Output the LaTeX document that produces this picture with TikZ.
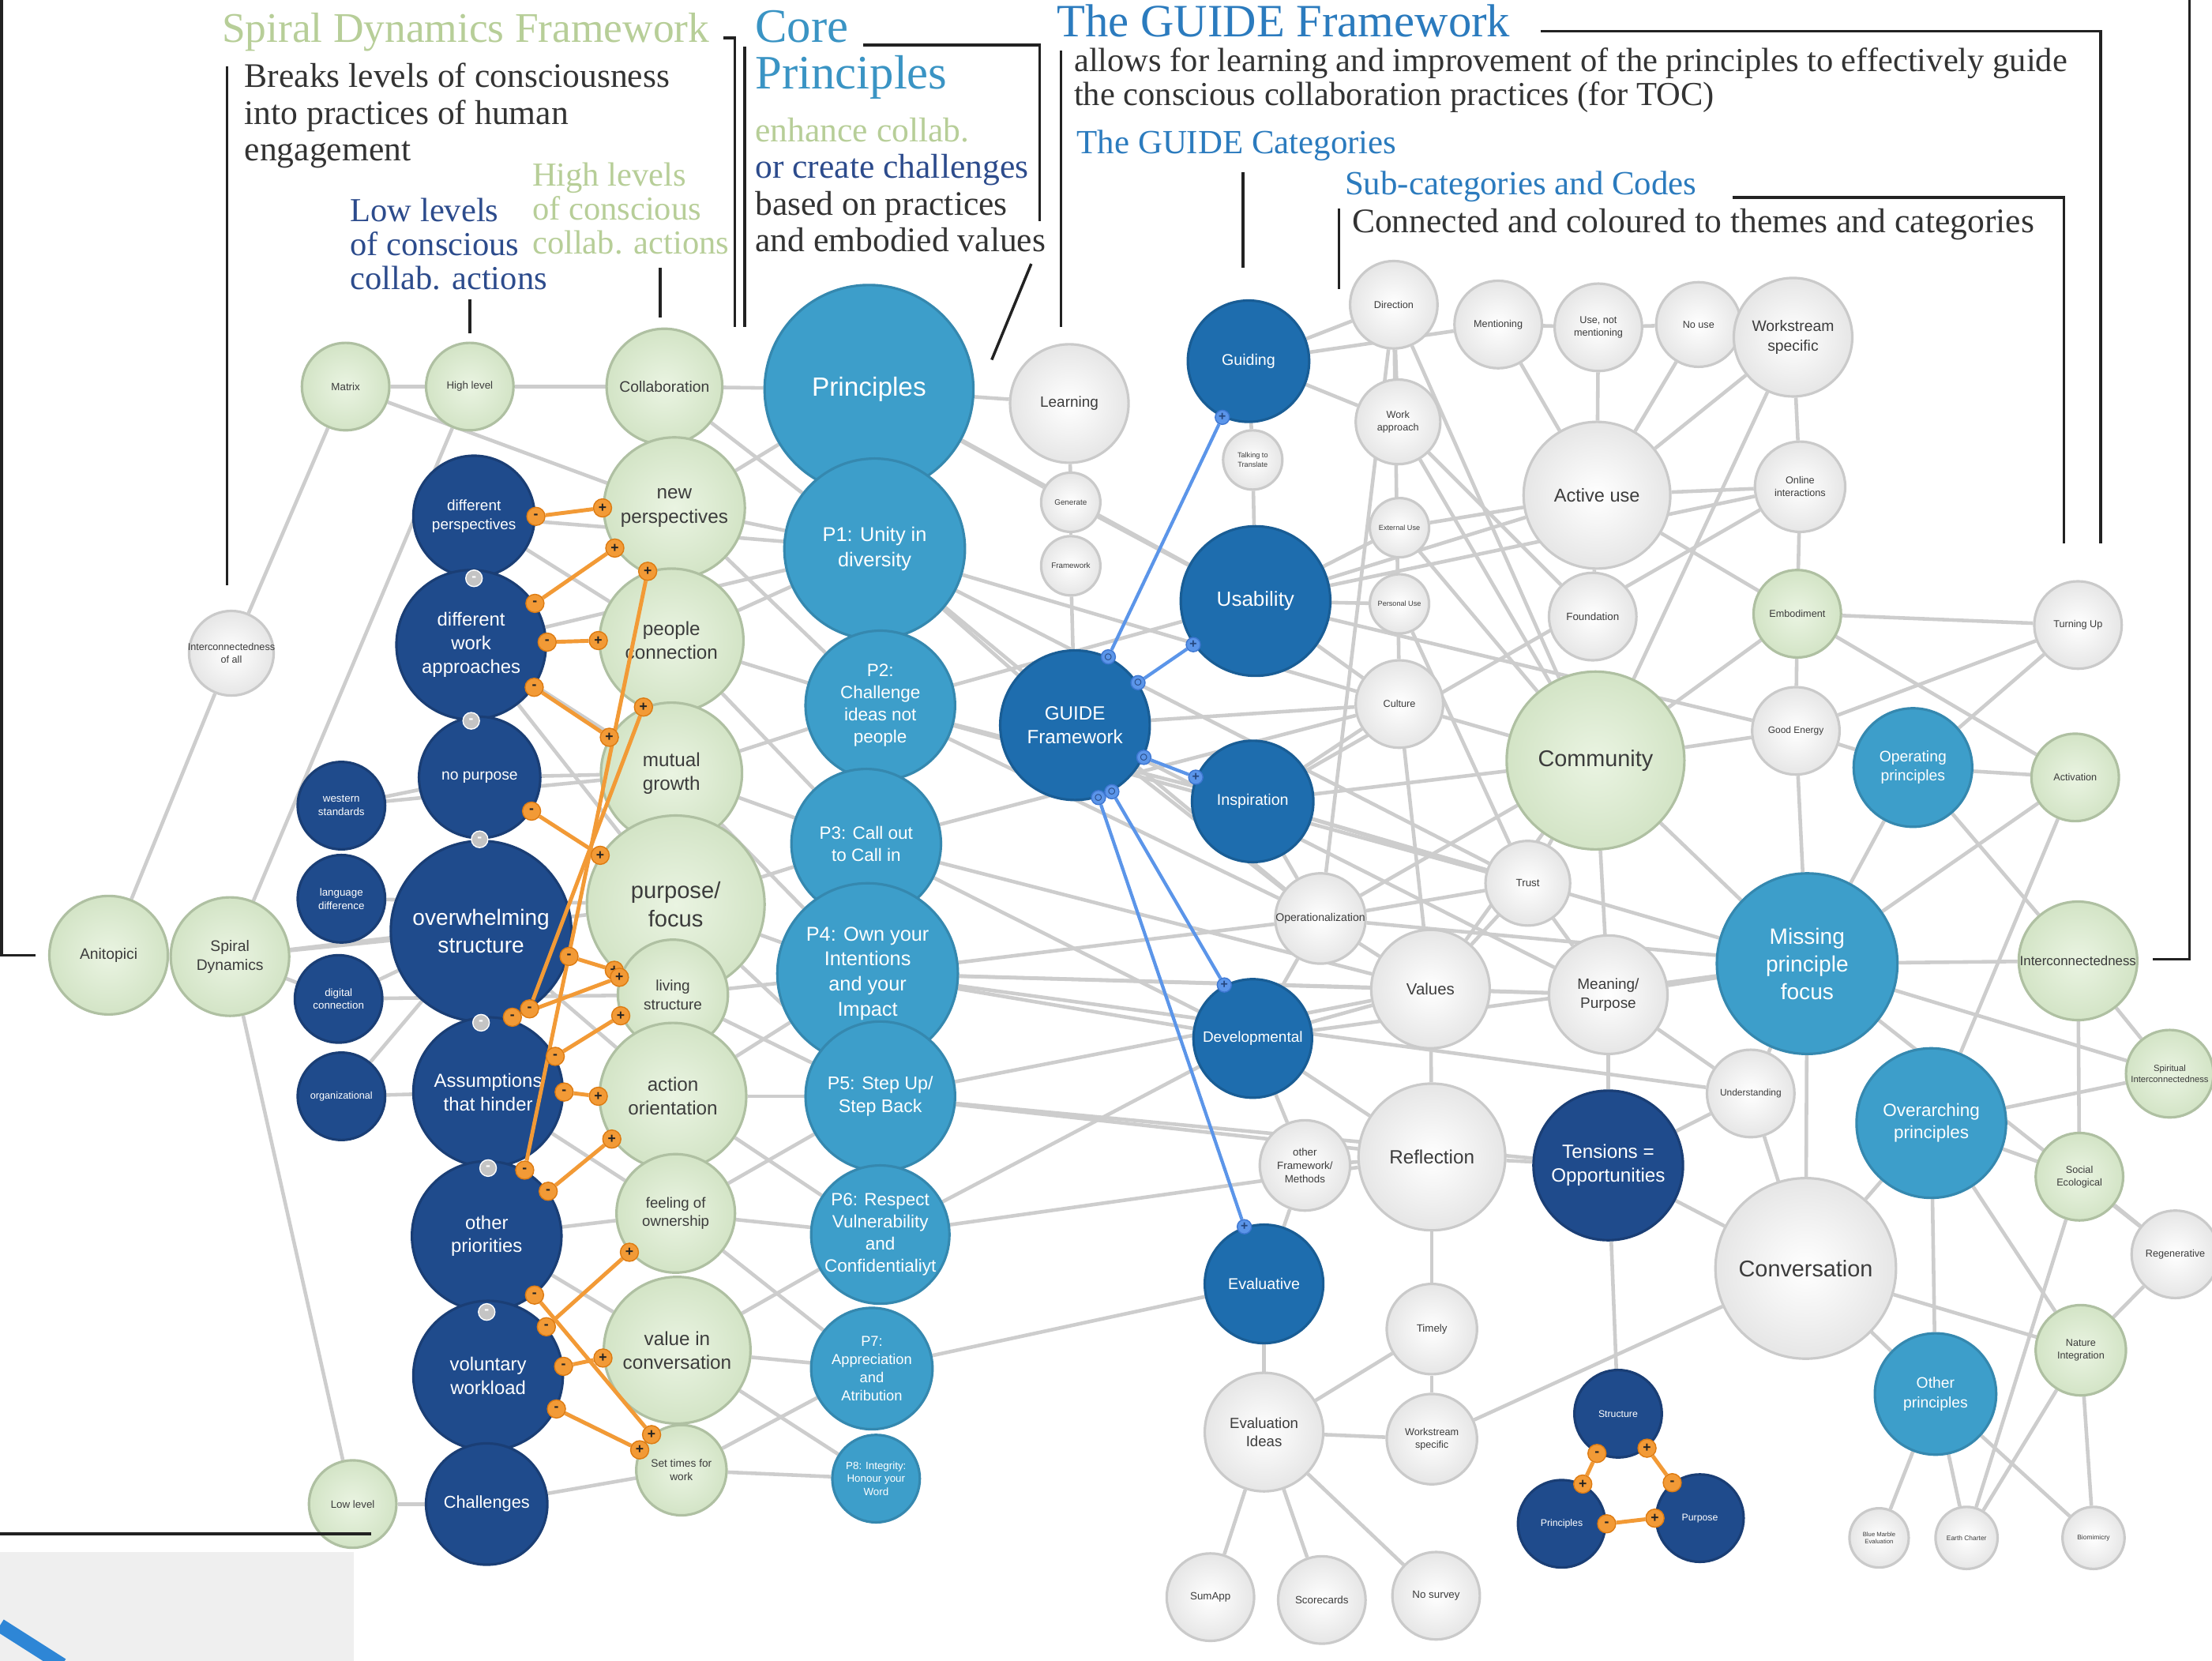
\documentclass[tikz,border=0pt]{standalone}
\usepackage{fontspec}
\newfontfamily\annofont{Liberation Serif}
\newfontfamily\ballfont{Liberation Sans}
\usetikzlibrary{backgrounds}
\pgfdeclarelayer{links}
\pgfdeclarelayer{front}
\pgfsetlayers{background,main,links,front}
\definecolor{SageTitle}{HTML}{B7CE98}
\definecolor{DeepInk}{HTML}{2C4B8C}
\definecolor{CoreTeal}{HTML}{3A94C4}
\definecolor{GuideTitle}{HTML}{2B7BBE}
\definecolor{BodyInk}{HTML}{333333}
\definecolor{Ink}{HTML}{222222}
\definecolor{BallInk}{HTML}{3C3C3C}
\definecolor{SageCore}{HTML}{EAF4E2}
\definecolor{SageRim}{HTML}{D3E4C6}
\definecolor{SageEdge}{HTML}{AFC0A2}
\definecolor{ShellRim}{HTML}{E6E6E6}
\definecolor{ShellEdge}{HTML}{CACACA}
\definecolor{Navy}{HTML}{1F4B8C}
\definecolor{NavyEdge}{HTML}{1A3E75}
\definecolor{GuideBlue}{HTML}{1E6DAE}
\definecolor{GuideEdge}{HTML}{195D95}
\definecolor{Teal}{HTML}{3D9ECA}
\definecolor{TealEdge}{HTML}{3588AF}
\definecolor{LinkGray}{HTML}{CDCDCD}
\definecolor{OrangeLink}{HTML}{F29A36}
\definecolor{OrangeDeep}{HTML}{DD7B12}
\definecolor{BlueLink}{HTML}{5B95E9}
\definecolor{BlueDeep}{HTML}{3E77D2}
\definecolor{MarkGray}{HTML}{C4C4C4}
\definecolor{PanelGray}{HTML}{EFEFEF}
\definecolor{SlideBlue}{HTML}{2E86D6}
\tikzset{
  ball/.style={circle, draw, line width=0.9pt, align=center, inner sep=-6pt},
  dia/.style={minimum size=#1*0.017864cm},
  fs/.style={font=\ballfont\fontsize{#1}{\fpeval{1.25*#1}}\selectfont},
  greenball/.style={ball, draw=SageEdge, inner color=SageCore,
                    outer color=SageRim, text=BallInk},
  whiteball/.style={ball, draw=ShellEdge, inner color=white,
                    outer color=ShellRim, text=BallInk},
  navyball/.style={ball, draw=NavyEdge, fill=Navy, text=white},
  guideball/.style={ball, draw=GuideEdge, fill=GuideBlue, text=white},
  tealball/.style={ball, draw=TealEdge, fill=Teal, text=white},
  link/.style={draw=LinkGray, line width=1.3pt},
  orlink/.style={draw=OrangeLink, line width=1.4pt},
  bllink/.style={draw=BlueLink, line width=1.2pt},
  ordot/.style={circle, fill=OrangeLink, draw=OrangeDeep, line width=0.4pt,
                minimum size=0.23cm, inner sep=0pt, text=Ink,
                font=\ballfont\bfseries\fontsize{5}{5}\selectfont},
  bldot/.style={circle, fill=BlueLink, draw=BlueDeep, line width=0.4pt,
                minimum size=0.18cm, inner sep=0pt, text=BlueDeep!60!black,
                font=\ballfont\bfseries\fontsize{4.5}{4.5}\selectfont},
  grdot/.style={circle, fill=MarkGray, draw=white, line width=0.4pt,
                minimum size=0.21cm, inner sep=0pt, text=white,
                font=\ballfont\bfseries\fontsize{5}{5}\selectfont},
  leader/.style={draw=Ink, line width=1pt},
  headline/.style={font=\annofont\fontsize{15.2}{16}\selectfont,
                   inner sep=0pt, anchor=west},
  corehead/.style={font=\annofont\fontsize{17.3}{16.8}\selectfont,
                   text=CoreTeal, align=left, inner sep=0pt, anchor=west},
  subhead/.style={font=\annofont\fontsize{12.2}{12.2}\selectfont,
                  text=GuideTitle, inner sep=0pt, anchor=west},
  annotext/.style={font=\annofont\fontsize{12.4}{13.2}\selectfont,
                   text=BodyInk, align=left, inner sep=0pt, anchor=west},
  annotight/.style={annotext, font=\annofont\fontsize{12.1}{12.2}\selectfont},
}

\begin{document}
\begin{tikzpicture}[x=0.017864cm, y=-0.017864cm]
  \path[use as bounding box] (0,0) rectangle (1568,1177);

  % headings and notes
  \node[headline, text=SageTitle] (sdtitle) at (157,23) {Spiral Dynamics Framework};
  \node[annotext] (sddesc) at (173,82)
    {Breaks levels of consciousness\\into practices of human\\engagement};
  \node[annotight, text=DeepInk] (lowlbl) at (248,173)
    {Low levels\\of conscious\\collab. actions};
  \node[annotight, text=SageTitle] (highlbl) at (377,148)
    {High levels\\of conscious\\collab. actions};
  \node[corehead] (coretitle) at (535,39) {Core\\Principles};
  \node[annotext] (corenote) at (535,131)
    {{\color{SageTitle}enhance collab.}\\{\color{DeepInk}or create challenges}\\
     based on practices\\and embodied values};
  \node[headline, text=GuideTitle, font=\annofont\fontsize{16.7}{16.7}\selectfont]
    (guidetitle) at (749,15) {The GUIDE Framework};
  \node[annotight] (guidedesc) at (761,57)
    {allows for learning and improvement of the principles to effectively guide\\
     the conscious collaboration practices (for TOC)};
  \node[subhead] (cathead) at (763,103) {The GUIDE Categories};
  \node[subhead] (subcathead) at (953,132) {Sub-categories and Codes};
  \node[annotext] (subcatdesc) at (958,159)
    {Connected and coloured to themes and categories};

  % bracket lines
  \draw[leader] (1,0) -- (1,677) -- (25,677);
  \draw[leader] (161,47) -- (161,415);
  \draw[leader] (333,212) -- (333,236);
  \draw[leader] (468,190) -- (468,225);
  \draw[leader] (513,27) -- (521,27) -- (521,232);
  \draw[leader] (528,33) -- (528,232);
  \draw[leader] (612,32) -- (737,32) -- (737,157);
  \draw[leader] (731,187) -- (703,255);
  \draw[leader] (752,36) -- (752,232);
  \draw[leader] (1092,22) -- (1489,22) -- (1489,385);
  \draw[leader] (1228,140) -- (1463,140) -- (1463,385);
  \draw[leader] (881,122) -- (881,190);
  \draw[leader] (949,148) -- (949,205);
  \draw[leader] (1552,0) -- (1552,680) -- (1526,680);

  % left cluster
  \node[greenball, dia=84, fs=5.5] (anitopici) at (77,677) {Anitopici};
  \node[greenball, dia=84, fs=5.5] (spiral) at (163,678) {Spiral\\Dynamics};
  \node[whiteball, dia=60, fs=3.6] (interall) at (164,463) {Interconnectedness\\of all};
  \node[greenball, dia=62, fs=3.8] (matrix) at (245,274) {Matrix};
  \node[greenball, dia=62, fs=3.8] (highlvl) at (333,274) {High level};
  \node[greenball, dia=62, fs=3.8] (lowlvl) at (250,1066) {Low level};
  \node[navyball, dia=62, fs=3.8] (western) at (242,571) {western\\standards};
  \node[navyball, dia=62, fs=3.8] (language) at (242,637) {language\\difference};
  \node[navyball, dia=62, fs=3.8] (digital) at (240,708) {digital\\connection};
  \node[navyball, dia=62, fs=3.6] (organiz) at (242,777) {organizational};
  \node[navyball, dia=86, fs=5.4] (diffpersp) at (336,366) {different\\perspectives};
  \node[navyball, dia=106, fs=6.8] (diffwork) at (334,457) {different\\work\\approaches};
  \node[navyball, dia=86, fs=5.5] (nopurpose) at (340,551) {no purpose};
  \node[navyball, dia=128, fs=8] (overwhelm) at (341,660) {overwhelming\\structure};
  \node[navyball, dia=106, fs=6.8] (assump) at (346,774) {Assumptions\\that hinder};
  \node[navyball, dia=106, fs=6.8] (otherprio) at (345,876) {other\\priorities};
  \node[navyball, dia=106, fs=6.8] (voluntary) at (346,975) {voluntary\\workload};
  \node[navyball, dia=86, fs=6.2] (challenges) at (345,1066) {Challenges};

  % collaboration column
  \node[greenball, dia=82, fs=5.5] (collab) at (471,274) {Collaboration};
  \node[greenball, dia=100, fs=6.9] (newpersp) at (478,360) {new\\perspectives};
  \node[greenball, dia=102, fs=6.9] (peopleconn) at (476,454) {people\\connection};
  \node[greenball, dia=100, fs=6.9] (mutual) at (476,548) {mutual\\growth};
  \node[greenball, dia=126, fs=8.3] (purpose) at (479,641) {purpose/\\focus};
  \node[greenball, dia=78, fs=5.4] (living) at (477,705) {living\\structure};
  \node[greenball, dia=104, fs=6.9] (action) at (477,777) {action\\orientation};
  \node[greenball, dia=84, fs=5.3] (feeling) at (479,860) {feeling of\\ownership};
  \node[greenball, dia=104, fs=6.9] (valueconv) at (480,957) {value in\\conversation};
  \node[greenball, dia=64, fs=3.9] (settimes) at (483,1042) {Set times for\\work};

  % principles column
  \node[tealball, dia=148, fs=9.5] (principles) at (616,276) {Principles};
  \node[tealball, dia=128, fs=7.2] (pone) at (620,389) {P1: Unity in\\diversity};
  \node[tealball, dia=106, fs=6.4] (ptwo) at (624,500) {P2:\\Challenge\\ideas not\\people};
  \node[tealball, dia=106, fs=6.4] (pthree) at (614,598) {P3: Call out\\to Call in};
  \node[tealball, dia=128, fs=7.2] (pfour) at (615,690)
    {P4: Own your\\Intentions\\and your\\Impact};
  \node[tealball, dia=106, fs=6.6] (pfive) at (624,777) {P5: Step Up/\\Step Back};
  \node[tealball, dia=98, fs=6.4] (psix) at (624,875)
    {P6: Respect\\Vulnerability\\and\\Confidentialiyt};
  \node[tealball, dia=86, fs=5.2] (pseven) at (618,970) {P7:\\Appreciation\\and\\Atribution};
  \node[tealball, dia=62, fs=3.8] (peight) at (621,1048) {P8: Integrity:\\Honour your\\Word};

  % guide categories
  \node[whiteball, dia=84, fs=5.4] (learning) at (758,286) {Learning};
  \node[whiteball, dia=42, fs=2.8] (generate) at (759,356) {Generate};
  \node[whiteball, dia=42, fs=2.8] (framework) at (759,401) {Framework};
  \node[guideball, dia=106, fs=6.9] (guide) at (762,514) {GUIDE\\Framework};
  \node[guideball, dia=86, fs=5.6] (guiding) at (885,256) {Guiding};
  \node[whiteball, dia=42, fs=2.6] (talking) at (888,326) {Talking to\\Translate};
  \node[guideball, dia=106, fs=7.4] (usability) at (890,426) {Usability};
  \node[guideball, dia=86, fs=5.6] (inspiration) at (888,568) {Inspiration};
  \node[guideball, dia=84, fs=5.4] (developmental) at (888,736) {Developmental};
  \node[guideball, dia=84, fs=5.6] (evaluative) at (896,910) {Evaluative};

  % codes
  \node[whiteball, dia=64, fs=4] (operational) at (936,651) {Operationalization};
  \node[whiteball, dia=64, fs=3.8] (otherframe) at (925,826) {other\\Framework/\\Methods};
  \node[whiteball, dia=84, fs=5.3] (evalideas) at (896,1015) {Evaluation\\Ideas};
  \node[whiteball, dia=62, fs=3.8] (sumapp) at (858,1132) {SumApp};
  \node[whiteball, dia=62, fs=3.8] (scorecards) at (937,1134) {Scorecards};
  \node[whiteball, dia=62, fs=3.8] (nosurvey) at (1018,1131) {No survey};
  \node[whiteball, dia=64, fs=3.8] (timely) at (1015,942) {Timely};
  \node[whiteball, dia=64, fs=3.6] (workspec) at (1015,1020) {Workstream\\specific};
  \node[whiteball, dia=104, fs=6.9] (reflection) at (1015,820) {Reflection};
  \node[whiteball, dia=84, fs=5.8] (values) at (1014,701) {Values};
  \node[navyball, dia=106, fs=6.9] (tensions) at (1140,826) {Tensions =\\Opportunities};
  \node[whiteball, dia=84, fs=5.4] (meaning) at (1140,705) {Meaning/\\Purpose};
  \node[whiteball, dia=60, fs=3.8] (trust) at (1083,626) {Trust};
  \node[greenball, dia=126, fs=8.2] (community) at (1131,539) {Community};
  \node[whiteball, dia=62, fs=3.8] (foundation) at (1129,437) {Foundation};
  \node[whiteball, dia=104, fs=6.7] (activeuse) at (1132,351) {Active use};
  \node[whiteball, dia=62, fs=3.6] (direction) at (988,216) {Direction};
  \node[whiteball, dia=60, fs=3.6] (workappr) at (991,299) {Work\\approach};
  \node[whiteball, dia=42, fs=2.6] (external) at (992,374) {External Use};
  \node[whiteball, dia=42, fs=2.6] (personal) at (992,428) {Personal Use};
  \node[whiteball, dia=62, fs=3.6] (culture) at (992,499) {Culture};
  \node[whiteball, dia=62, fs=3.6] (mentioning) at (1062,230) {Mentioning};
  \node[whiteball, dia=62, fs=3.6] (usenot) at (1133,232) {Use, not\\mentioning};
  \node[whiteball, dia=60, fs=3.6] (nouse) at (1204,230) {No use};
  \node[whiteball, dia=84, fs=5.5] (workstream) at (1271,239) {Workstream\\specific};
  \node[whiteball, dia=64, fs=3.6] (online) at (1276,345) {Online\\interactions};
  \node[greenball, dia=62, fs=3.6] (embodiment) at (1274,435) {Embodiment};
  \node[whiteball, dia=62, fs=3.4] (goodenergy) at (1273,518) {Good Energy};
  \node[tealball, dia=84, fs=5.5] (operating) at (1356,544) {Operating\\principles};
  \node[tealball, dia=128, fs=8] (missing) at (1281,683) {Missing\\principle\\focus};
  \node[whiteball, dia=62, fs=3.4] (understanding) at (1241,775) {Understanding};
  \node[tealball, dia=106, fs=6.4] (overarching) at (1369,796) {Overarching\\principles};
  \node[whiteball, dia=128, fs=8.2] (conversation) at (1280,899) {Conversation};
  \node[tealball, dia=86, fs=5.5] (otherprinc) at (1372,988) {Other\\principles};
  \node[navyball, dia=62, fs=3.5] (structure) at (1147,1002) {Structure};
  \node[navyball, dia=62, fs=3.5] (trprinciples) at (1107,1080) {Principles};
  \node[navyball, dia=62, fs=3.5] (trpurpose) at (1205,1076) {Purpose};
  \node[whiteball, dia=42, fs=2.2] (bluemarble) at (1332,1090) {Blue Marble\\Evaluation};
  \node[whiteball, dia=44, fs=2.4] (earthcharter) at (1394,1090) {Earth Charter};
  \node[whiteball, dia=44, fs=2.4] (biomimicry) at (1484,1090) {Biomimicry};
  \node[whiteball, dia=62, fs=3.6] (turningup) at (1473,443) {Turning Up};
  \node[greenball, dia=62, fs=3.6] (activation) at (1471,551) {Activation};
  \node[greenball, dia=84, fs=4.8] (interconn) at (1473,681) {Interconnectedness};
  \node[greenball, dia=62, fs=3.2] (spiritual) at (1538,761) {Spiritual\\Interconnectedness};
  \node[greenball, dia=62, fs=3.6] (social) at (1474,834) {Social\\Ecological};
  \node[whiteball, dia=62, fs=3.6] (regenerative) at (1542,889) {Regenerative};
  \node[greenball, dia=64, fs=3.6] (nature) at (1475,957) {Nature\\Integration};

  % slide remnant, bottom left
  \draw[leader] (0,1087) -- (263,1087);
  \fill[PanelGray] (0,1100) rectangle (251,1177);
  \draw[SlideBlue, line width=5pt] (0,1152) -- (44,1180);

  % link ends
  \begin{pgfonlayer}{front}
    \foreach \n in {diffpersp, diffwork, nopurpose, overwhelm, assump, otherprio}
      \node[grdot] (gap-\n) at (\n.south) {-};
    \node[ordot] (o1a) at (diffpersp.0) {-};   \node[ordot] (o1b) at (newpersp.180) {+};
    \node[ordot] (o2a) at (diffwork.33) {-};   \node[ordot] (o2b) at (newpersp.214) {+};
    \node[ordot] (o3a) at (diffwork.2) {-};    \node[ordot] (o3b) at (peopleconn.180) {+};
    \node[ordot] (o4a) at (diffwork.-34) {-};  \node[ordot] (o4b) at (mutual.150) {+};
    \node[ordot] (o5a) at (nopurpose.-33) {-}; \node[ordot] (o5b) at (purpose.147) {+};
    \node[ordot] (o6a) at (overwhelm.-16) {-}; \node[ordot] (o6b) at (purpose.227) {+};
    \node[ordot] (o7a) at (overwhelm.-70) {-}; \node[ordot] (o7b) at (living.162) {+};
    \node[ordot] (o8a) at (assump.28) {-};     \node[ordot] (o8b) at (living.202) {+};
    \node[ordot] (o9a) at (assump.0) {-};      \node[ordot] (o9b) at (action.180) {+};
    \node[ordot] (o10a) at (otherprio.36) {-}; \node[ordot] (o10b) at (action.215) {+};
    \node[ordot] (o11a) at (otherprio.-51) {-};\node[ordot] (o11b) at (settimes.130) {+};
    \node[ordot] (o12a) at (voluntary.40) {-}; \node[ordot] (o12b) at (feeling.220) {+};
    \node[ordot] (o13a) at (voluntary.7) {-};  \node[ordot] (o13b) at (valueconv.186) {+};
    \node[ordot] (o14a) at (voluntary.-26) {-};\node[ordot] (o14b) at (settimes.154) {+};
    \node[ordot] (o15a) at (otherprio.60) {-}; \node[ordot] (o15b) at (peopleconn.109) {+};
    \node[ordot] (o16a) at (overwhelm.-58) {-};\node[ordot] (o16b) at (mutual.113) {+};
    \node[ordot] (t1a) at (structure.242) {-};    \node[ordot] (t1b) at (trprinciples.62) {+};
    \node[ordot] (t2a) at (structure.310) {+};    \node[ordot] (t2b) at (trpurpose.128) {-};
    \node[ordot] (t3a) at (trprinciples.0) {-};   \node[ordot] (t3b) at (trpurpose.180) {+};
    \node[bldot] (b1a) at (guide.64) {$\circ$};   \node[bldot] (b1b) at (guiding.245) {+};
    \node[bldot] (b2a) at (guide.34) {$\circ$};   \node[bldot] (b2b) at (usability.215) {+};
    \node[bldot] (b3a) at (guide.-25) {$\circ$};  \node[bldot] (b3b) at (inspiration.157) {+};
    \node[bldot] (b4a) at (guide.-61) {$\circ$};  \node[bldot] (b4b) at (developmental.118) {+};
    \node[bldot] (b5a) at (guide.-72) {$\circ$};  \node[bldot] (b5b) at (evaluative.109) {+};
  \end{pgfonlayer}

  \begin{pgfonlayer}{links}
    \foreach \k in {o1,o2,o3,o4,o5,o6,o7,o8,o9,o10,o11,o12,o13,o14,o15,o16,t1,t2,t3}
      \draw[orlink] (\k a) -- (\k b);
    \foreach \k in {b1,b2,b3,b4,b5}
      \draw[bllink] (\k a) -- (\k b);
  \end{pgfonlayer}

  % code network
  \begin{scope}[on background layer]
    \fill[white] (0,0) rectangle (1568,1177);
    \foreach \a/\b in {anitopici/interall, interall/matrix, spiral/highlvl,
        spiral/lowlvl, spiral/overwhelm, spiral/purpose, spiral/digital,
        matrix/highlvl, highlvl/collab, matrix/newpersp, collab/principles,
        western/nopurpose, western/mutual, language/purpose, digital/overwhelm,
        digital/living, organiz/assump, organiz/overwhelm, lowlvl/challenges,
        challenges/settimes, diffpersp/peopleconn, diffwork/mutual,
        diffwork/purpose, nopurpose/mutual, overwhelm/action, assump/feeling,
        otherprio/valueconv, otherprio/feeling, voluntary/settimes,
        diffwork/pone, diffpersp/pone, newpersp/pone, newpersp/ptwo,
        peopleconn/pone, peopleconn/ptwo, peopleconn/pthree, mutual/ptwo,
        mutual/pthree, mutual/pfour, purpose/pthree, purpose/pfour,
        purpose/pfive, living/pfour, living/pfive, action/pfour, action/pfive,
        action/psix, feeling/pfive, feeling/psix, feeling/pseven,
        valueconv/psix, valueconv/pseven, valueconv/peight, settimes/pseven,
        settimes/peight, collab/pone, newpersp/principles}
      \draw[link] (\a) -- (\b);
    \foreach \a/\b in {principles/learning, principles/usability,
        principles/generate, pone/culture, pone/operational, pone/guide,
        pone/trust, ptwo/usability, ptwo/inspiration, ptwo/operational,
        ptwo/trust, pthree/values, pthree/developmental, pthree/culture,
        pfour/meaning, pfour/understanding, pfour/operational,
        pfour/developmental, pfour/values, pfive/values, pfive/reflection,
        pfive/tensions, psix/developmental, psix/reflection, pseven/evaluative}
      \draw[link] (\a) -- (\b);
    \foreach \a/\b in {learning/generate, generate/framework, framework/guide,
        guiding/talking, talking/usability, guiding/direction,
        guiding/mentioning, guiding/workappr, generate/usability, guide/culture,
        guide/operational, guide/meaning, usability/external,
        usability/personal, usability/culture, usability/activeuse,
        usability/online, usability/goodenergy, inspiration/operational,
        inspiration/trust, inspiration/community, inspiration/culture,
        inspiration/missing, direction/workappr, direction/culture,
        direction/community, direction/operational, workappr/foundation,
        workappr/community, external/activeuse, external/community,
        personal/trust, culture/community, culture/values, mentioning/usenot,
        usenot/nouse, nouse/workstream, mentioning/activeuse,
        usenot/activeuse, nouse/activeuse, workstream/activeuse,
        workstream/online, workstream/community, activeuse/online,
        activeuse/embodiment, activeuse/foundation, online/embodiment,
        online/inspiration, embodiment/goodenergy, embodiment/activation,
        embodiment/community, goodenergy/turningup, goodenergy/missing,
        goodenergy/operating, goodenergy/community, operating/activation,
        operating/turningup, operating/interconn, operating/missing,
        turningup/embodiment, activation/missing, activation/overarching,
        interconn/missing, interconn/social, interconn/spiritual,
        spiritual/missing, spiritual/overarching, social/overarching,
        social/regenerative, social/earthcharter, regenerative/nature,
        regenerative/missing, nature/conversation, nature/biomimicry,
        nature/earthcharter, nature/overarching, overarching/otherprinc,
        otherprinc/bluemarble, otherprinc/earthcharter, otherprinc/biomimicry,
        otherprinc/conversation, conversation/missing,
        conversation/understanding, conversation/overarching,
        understanding/missing, community/trust, community/meaning,
        community/values, community/missing, community/operational,
        trust/values, trust/operational, trust/meaning, meaning/tensions,
        meaning/values, meaning/missing, meaning/understanding,
        values/reflection, values/developmental, values/operational,
        reflection/timely, reflection/otherframe, reflection/tensions,
        timely/workspec, timely/evalideas, evalideas/evaluative,
        evalideas/sumapp, evalideas/scorecards, evalideas/nosurvey,
        evalideas/workspec, evaluative/otherframe, developmental/otherframe,
        developmental/reflection, developmental/operational,
        developmental/missing, operational/missing, tensions/structure,
        tensions/conversation, tensions/understanding, workspec/conversation}
      \draw[link] (\a) -- (\b);
  \end{scope}
\end{tikzpicture}
\end{document}
